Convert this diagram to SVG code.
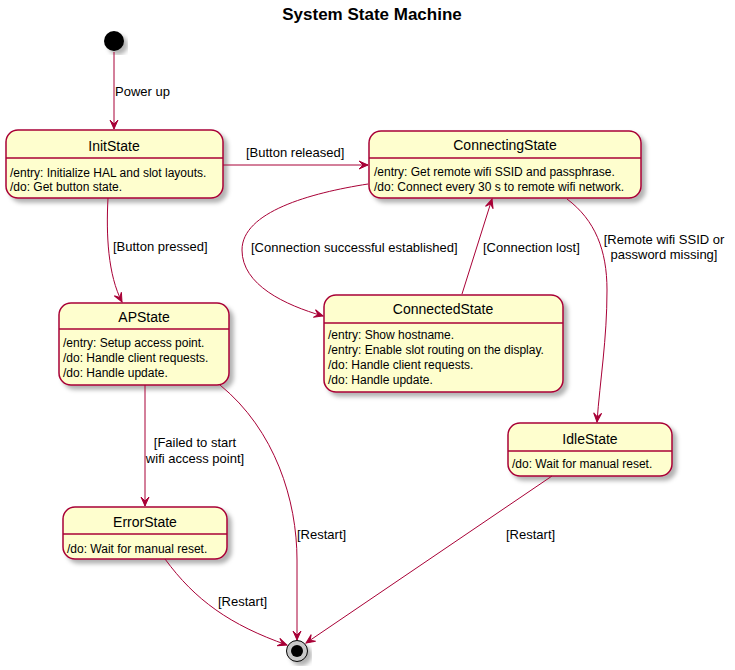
<svg xmlns="http://www.w3.org/2000/svg" width="735" height="670" viewBox="0 0 735 670">
<defs>
<filter id="sh" x="-20%" y="-20%" width="140%" height="140%">
<feDropShadow dx="4" dy="4" stdDeviation="2" flood-color="#000" flood-opacity="0.3"/>
</filter>
<marker id="ar" markerUnits="userSpaceOnUse" markerWidth="12" markerHeight="12" viewBox="-10 -6 12 12" refX="0" refY="0" orient="auto">
<path d="M0,0 L-9,-4 L-5,0 L-9,4 Z" fill="#A80036" stroke="#A80036" stroke-width="1"/>
</marker>
<style>
.st{fill:#FEFECE;stroke:#A80036;stroke-width:1.5;filter:url(#sh)}
.dv{stroke:#A80036;stroke-width:1.5}
.nm{font-family:"Liberation Sans",Arial,sans-serif;font-size:14px;text-anchor:middle;fill:#000}
.bd{font-family:"Liberation Sans",Arial,sans-serif;font-size:12px;fill:#000}
.lb{font-family:"Liberation Sans",Arial,sans-serif;font-size:13px;fill:#000}
.cn{fill:none;stroke:#A80036;stroke-width:1;marker-end:url(#ar)}
</style>
</defs>
<rect width="735" height="670" fill="#fff"/>
<text x="372" y="20" font-family="'Liberation Sans',Arial,sans-serif" font-size="17" font-weight="bold" text-anchor="middle">System State Machine</text>

<g id="start"><circle cx="114" cy="41" r="10" fill="#000" filter="url(#sh)"/></g>

<g id="InitState">
<rect class="st" x="6" y="130" width="217" height="68" rx="12"/>
<line class="dv" x1="6" y1="158" x2="223" y2="158"/>
<text class="nm" x="114" y="151">InitState</text>
<text class="bd" x="10" y="177">/entry: Initialize HAL and slot layouts.</text>
<text class="bd" x="10" y="191">/do: Get button state.</text>
</g>

<g id="ConnectingState">
<rect class="st" x="369" y="131" width="272" height="67" rx="12"/>
<line class="dv" x1="369" y1="158" x2="641" y2="158"/>
<text class="nm" x="505" y="150">ConnectingState</text>
<text class="bd" x="374" y="176">/entry: Get remote wifi SSID and passphrase.</text>
<text class="bd" x="374" y="191">/do: Connect every 30 s to remote wifi network.</text>
</g>

<g id="APState">
<rect class="st" x="59" y="303" width="170" height="82" rx="12"/>
<line class="dv" x1="59" y1="329" x2="229" y2="329"/>
<text class="nm" x="144" y="322">APState</text>
<text class="bd" x="63" y="347">/entry: Setup access point.</text>
<text class="bd" x="63" y="362">/do: Handle client requests.</text>
<text class="bd" x="63" y="377">/do: Handle update.</text>
</g>

<g id="ConnectedState">
<rect class="st" x="324" y="295" width="239" height="97" rx="12"/>
<line class="dv" x1="324" y1="323" x2="563" y2="323"/>
<text class="nm" x="443" y="314">ConnectedState</text>
<text class="bd" x="328" y="339">/entry: Show hostname.</text>
<text class="bd" x="328" y="354">/entry: Enable slot routing on the display.</text>
<text class="bd" x="328" y="369">/do: Handle client requests.</text>
<text class="bd" x="328" y="384">/do: Handle update.</text>
</g>

<g id="ErrorState">
<rect class="st" x="63" y="507" width="164" height="52" rx="12"/>
<line class="dv" x1="63" y1="534" x2="227" y2="534"/>
<text class="nm" x="145" y="527">ErrorState</text>
<text class="bd" x="67" y="553">/do: Wait for manual reset.</text>
</g>

<g id="IdleState">
<rect class="st" x="508" y="423" width="164" height="53" rx="12"/>
<line class="dv" x1="508" y1="451" x2="672" y2="451"/>
<text class="nm" x="590" y="444">IdleState</text>
<text class="bd" x="512" y="468">/do: Wait for manual reset.</text>
</g>

<g id="end">
<circle cx="297" cy="651" r="10.5" fill="#c8c8c8" stroke="#000" stroke-width="1" filter="url(#sh)"/>
<circle cx="297" cy="651" r="6" fill="#000"/>
</g>

<g id="connectors">
<path class="cn" d="M114,52 L114,129"/>
<text class="lb" x="115" y="96">Power up</text>

<path class="cn" d="M223,165 L368,165"/>
<text class="lb" x="246" y="157">[Button released]</text>

<path class="cn" d="M108,198 C106,235 108,275 122,302"/>
<text class="lb" x="113" y="251">[Button pressed]</text>

<path class="cn" d="M368,184 C310,193 242,212 242,250 C242,285 285,305 323,316"/>
<text class="lb" x="251" y="252">[Connection successful established]</text>

<path class="cn" d="M462,294 L492,199"/>
<text class="lb" x="483" y="252">[Connection lost]</text>

<path class="cn" d="M567,199 C595,220 607,250 607,290 C607,340 600,380 597,422"/>
<text class="lb" x="664" y="244" text-anchor="middle">[Remote wifi SSID or</text>
<text class="lb" x="664" y="259" text-anchor="middle">password missing]</text>

<path class="cn" d="M145,385 L145,506"/>
<text class="lb" x="195" y="447" text-anchor="middle">[Failed to start</text>
<text class="lb" x="195" y="463" text-anchor="middle">wifi access point]</text>

<path class="cn" d="M220,385 C275,430 297,500 297,560 L297,640"/>
<text class="lb" x="297" y="539">[Restart]</text>

<path class="cn" d="M165,559 C195,600 230,625 287,645"/>
<text class="lb" x="218" y="606">[Restart]</text>

<path class="cn" d="M552,476 L306,643"/>
<text class="lb" x="506" y="539">[Restart]</text>
</g>
</svg>
